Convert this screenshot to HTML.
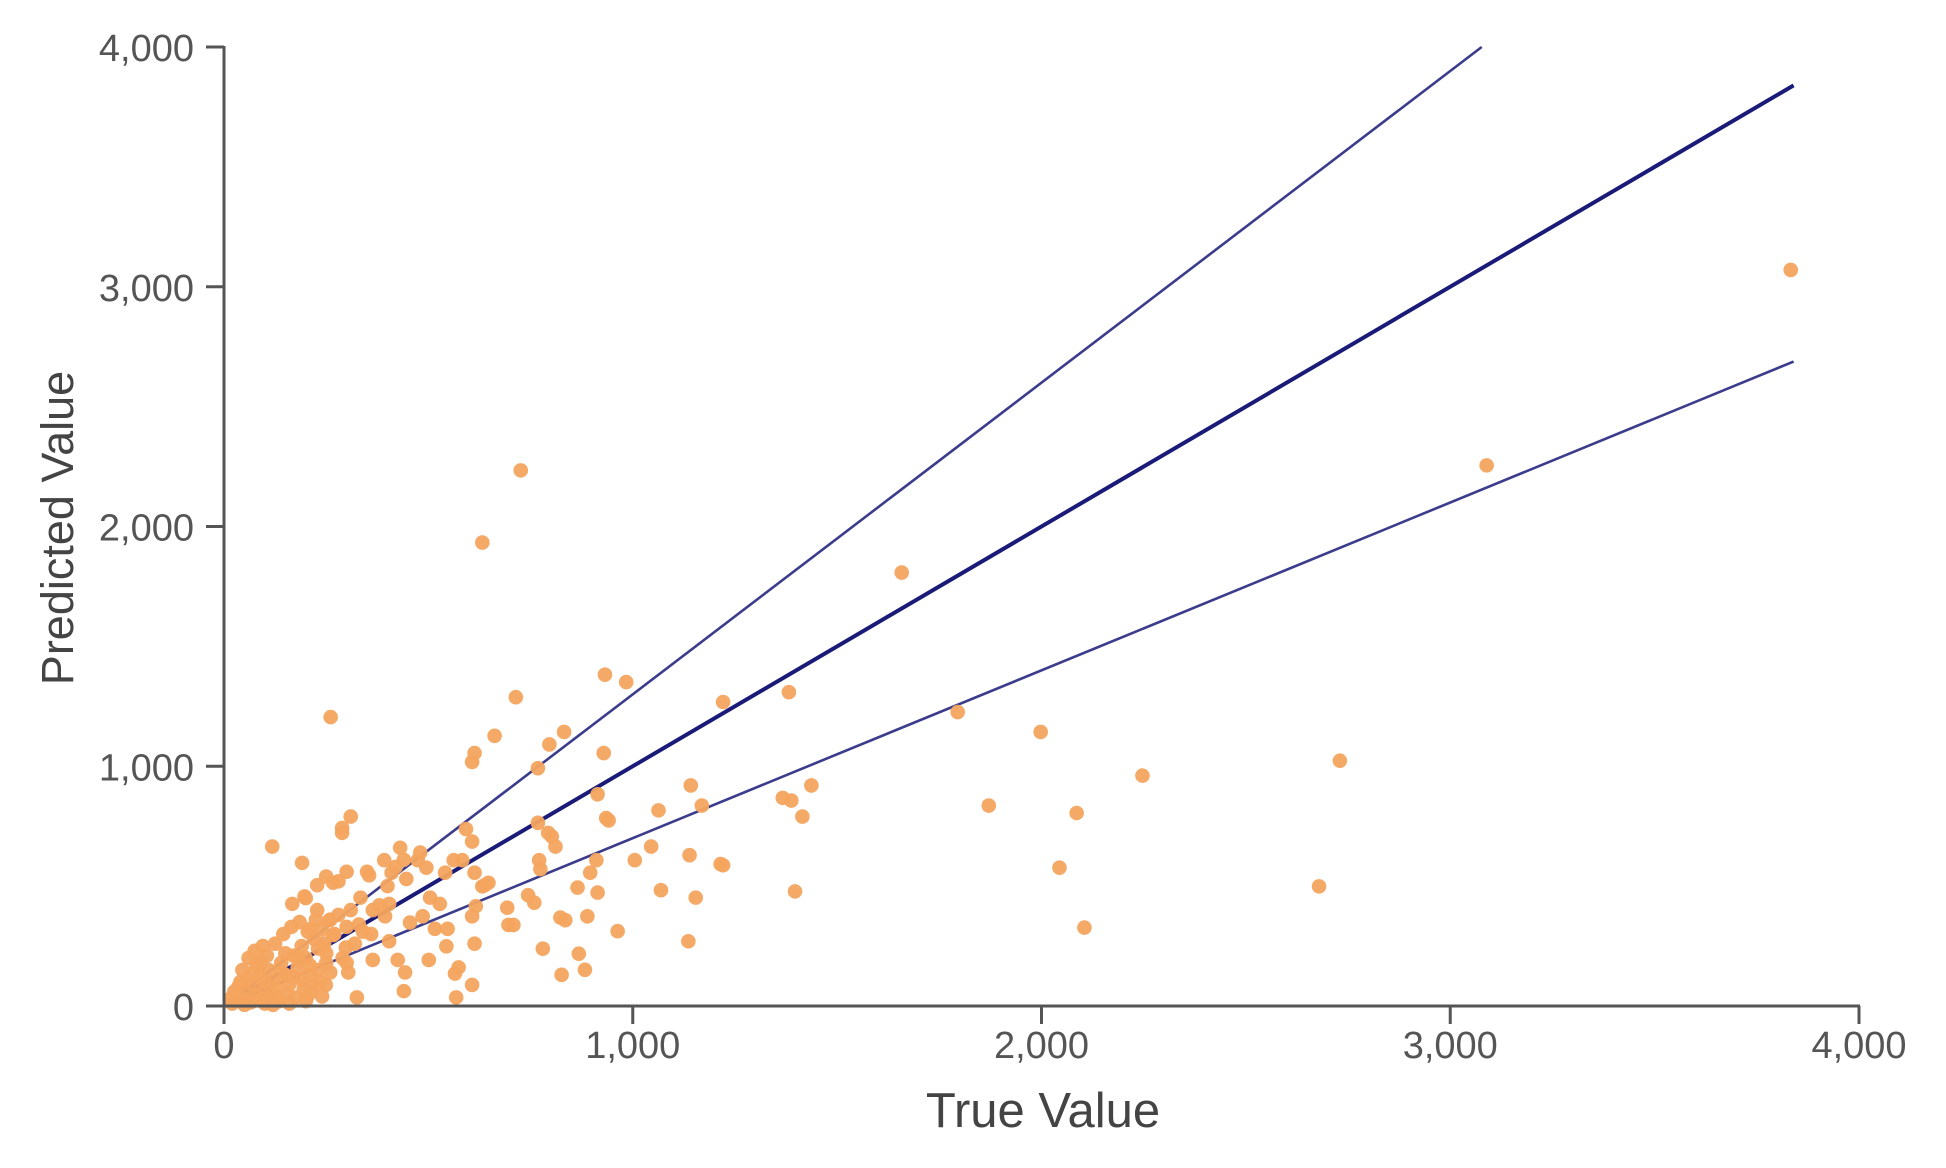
<!DOCTYPE html>
<html><head><meta charset="utf-8"><style>
html,body{margin:0;padding:0;background:#fff;}
svg{display:block;font-family:"Liberation Sans",sans-serif;}
</style></head><body>
<svg id="chart" width="1946" height="1168" xmlns="http://www.w3.org/2000/svg">
<g id="lines"></g>
<g id="points"></g>
<g id="axes"></g>
</svg>
<script>
const xTicks=[0,1000,2000,3000,4000];
const yTicks=[0,1000,2000,3000,4000];
const tickLabels=["0","1,000","2,000","3,000","4,000"];
const lineSlopes=[1.3,1.0,0.7];
const lineEnd=3840;
const trueVals=[3833,3089,1658,726,632,261,1795,1998,2730,2247,1871,2086,2044,2679,2105,1382,1221,932,984,714,929,832,796,662,613,607,768,1142,1437,1367,1388,1415,1169,1063,914,935,941,1045,1005,1139,1215,1221,1069,1154,1397,1136,963,868,883,826,780,889,914,896,865,911,823,835,771,774,802,811,793,768,744,759,693,708,696,647,632,592,607,616,613,574,568,565,544,528,504,474,431,392,355,310,289,289,191,118,197,167,228,267,334,364,364,325,304,440,443,425,404,455,486,516,394,404,446,410,495,541,562,583,613,638,607,547,501,607,243,249,203,182,212,267,298,228,310,258,
20,30,40,50,60,70,80,90,100,110,120,130,140,150,160,170,180,190,200,210,220,230,240,250,45,60,75,95,105,125,145,165,185,205,225,245,35,55,65,85,100,115,135,155,175,195,215,235,25,40,70,90,110,130,150,170,190,210,230,250,270,280,300,260,290,320,340,120,160,200,240,15,50,80,100,140,180,220,260,300,330,360,380,400,350,420,440,480,300,280,250,200];
const predVals=[3070,2255,1808,2234,1933,1205,1226,1143,1023,961,836,805,577,499,327,1309,1268,1382,1351,1288,1055,1143,1091,1127,1055,1018,992,920,920,868,857,790,836,816,883,784,774,665,608,629,592,587,483,452,478,270,312,218,151,130,239,374,473,556,494,608,369,358,608,571,707,665,722,764,462,431,410,338,338,514,499,738,686,416,260,161,36,135,249,426,452,608,660,608,545,790,743,722,597,665,457,426,504,514,452,400,192,36,140,62,140,192,270,348,374,322,374,426,530,556,577,556,608,608,556,504,374,322,192,88,244,88,36,192,322,296,244,400,400,358,
10,40,20,60,30,90,50,120,70,150,100,40,180,130,90,210,160,250,200,130,280,240,320,180,150,200,230,250,210,260,300,330,350,310,360,260,80,110,15,25,10,30,20,50,35,70,60,100,60,100,140,180,40,80,220,120,110,170,150,220,300,380,330,140,200,260,310,5,10,20,40,30,5,170,100,140,200,90,360,180,340,300,420,500,560,580,610,640,560,520,540,450];

const X0=224,X1=1859,Y0=1006,Y1=47;
const xs=v=>X0+(X1-X0)*v/4000;
const ys=v=>Y0-(Y0-Y1)*v/4000;
const NS="http://www.w3.org/2000/svg";
function mk(tag,parent){const e=document.createElementNS(NS,tag);parent.appendChild(e);return e;}

const lg=document.getElementById('lines');
lineSlopes.forEach((s,i)=>{
  const xe=Math.min(lineEnd,4000/s);
  const l=mk('line',lg);
  
  
  l.setAttribute('x1',xs(0));l.setAttribute('y1',ys(0));
  l.setAttribute('x2',xs(xe));l.setAttribute('y2',ys(xe*s));
  l.setAttribute('stroke',s===1?'#1a1a78':'#3c3c8c');
  l.setAttribute('stroke-width',s===1?4:2.6);
});
const pg=document.getElementById('points');
trueVals.forEach((v,i)=>{
  const c=mk('circle',pg);
  
  
  c.setAttribute('cx',xs(v));c.setAttribute('cy',ys(predVals[i]));
  c.setAttribute('r',7.3);c.setAttribute('fill','#f4a45e');c.setAttribute('fill-opacity','0.95');
});
const ag=document.getElementById('axes');
const xa=mk('line',ag);


xa.setAttribute('x1',X0-1);xa.setAttribute('y1',Y0);xa.setAttribute('x2',X1+1);xa.setAttribute('y2',Y0);
xa.setAttribute('stroke','#555');xa.setAttribute('stroke-width',3);
const ya=mk('line',ag);


ya.setAttribute('x1',X0);ya.setAttribute('y1',Y0+1);ya.setAttribute('x2',X0);ya.setAttribute('y2',Y1-1);
ya.setAttribute('stroke','#555');ya.setAttribute('stroke-width',3);
xTicks.forEach((t,i)=>{
  const tk=mk('line',ag);
  
  
  tk.setAttribute('x1',xs(t));tk.setAttribute('x2',xs(t));tk.setAttribute('y1',Y0);tk.setAttribute('y2',Y0+18);
  tk.setAttribute('stroke','#555');tk.setAttribute('stroke-width',3);
  const tx=mk('text',ag);
  
  
  tx.setAttribute('x',xs(t));tx.setAttribute('y',1058);tx.setAttribute('text-anchor','middle');
  tx.setAttribute('font-size',38);tx.setAttribute('fill','#555');tx.textContent=tickLabels[i];
});
yTicks.forEach((t,i)=>{
  const tk=mk('line',ag);
  
  
  tk.setAttribute('x1',X0-18);tk.setAttribute('x2',X0);tk.setAttribute('y1',ys(t));tk.setAttribute('y2',ys(t));
  tk.setAttribute('stroke','#555');tk.setAttribute('stroke-width',3);
  const tx=mk('text',ag);
  
  
  tx.setAttribute('x',194);tx.setAttribute('y',ys(t)+14);tx.setAttribute('text-anchor','end');
  tx.setAttribute('font-size',38);tx.setAttribute('fill','#555');tx.textContent=tickLabels[i];
});
const xt=mk('text',ag);


xt.setAttribute('x',1043);xt.setAttribute('y',1127);xt.setAttribute('text-anchor','middle');
xt.setAttribute('font-size',49);xt.setAttribute('fill','#444');xt.textContent='True Value';
const yt=mk('text',ag);


yt.setAttribute('transform','translate(73,528) rotate(-90)');yt.setAttribute('text-anchor','middle');
yt.setAttribute('font-size',45);yt.setAttribute('fill','#444');yt.textContent='Predicted Value';
</script>
</body></html>
